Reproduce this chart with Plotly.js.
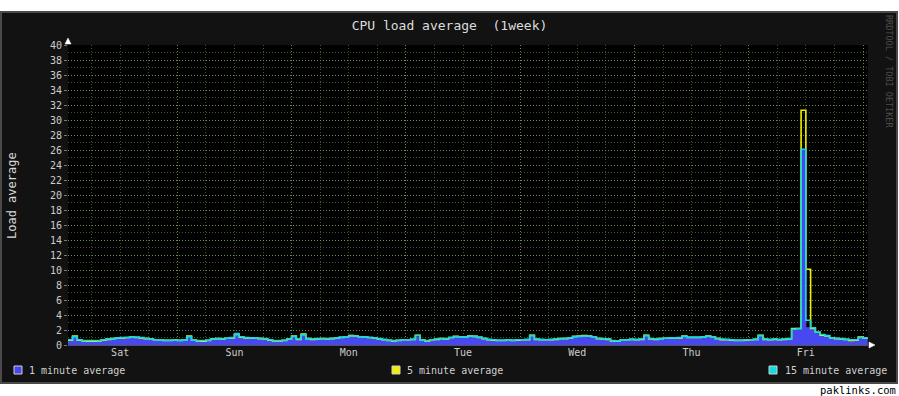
<!DOCTYPE html>
<html>
<head>
<meta charset="utf-8">
<script src="https://cdn.plot.ly/plotly-3.0.1.min.js"></script>
<style>html,body{margin:0;padding:0;background:#fff;}#chart{width:899px;height:396px;}</style>
</head>
<body>
<div id="chart"></div>
<script>
// ---- data (hours since Sat 00:00, hourly samples starting at hour 1) ----
const startHour = 1;
const stepHours = 1;
const days = ['Sat', 'Sun', 'Mon', 'Tue', 'Wed', 'Thu', 'Fri'];
const dayCentres = [12, 36, 60, 84, 108, 132, 156];
const yTicks = [0,2,4,6,8,10,12,14,16,18,20,22,24,26,28,30,32,34,36,38,40];
const seriesNames = ['1 minute average', '5 minute average', '15 minute average'];

const load1 = [
  0.6, 1.0, 0.6, 0.55, 0.55, 0.55, 0.6, 0.7, 0.8, 0.85, 0.9, 0.95,
  1.0, 1.0, 1.0, 0.95, 0.85, 0.75, 0.7, 0.65, 0.6, 0.6, 0.6, 0.6,
  0.6, 1.0, 0.6, 0.55, 0.55, 0.6, 0.8, 0.8, 0.8, 0.85, 0.95, 1.6,
  1.1, 0.95, 0.9, 0.9, 0.85, 0.85, 0.7, 0.55, 0.55, 0.6, 0.75, 1.1,
  0.75, 1.4, 0.8, 0.75, 0.8, 0.85, 0.8, 0.85, 0.9, 1.0, 1.1, 1.3,
  1.2, 1.15, 1.05, 1.0, 0.95, 0.85, 0.7, 0.65, 0.55, 0.6, 0.65, 0.7,
  0.7, 1.0, 0.6, 0.55, 0.7, 0.75, 0.8, 0.8, 0.95, 1.1, 1.1, 1.05,
  1.2, 1.2, 1.05, 0.85, 0.75, 0.65, 0.6, 0.6, 0.65, 0.6, 0.65, 0.65,
  0.7, 1.3, 0.75, 0.7, 0.65, 0.7, 0.75, 0.8, 0.85, 0.9, 1.1, 1.15,
  1.25, 1.2, 1.1, 0.85, 0.8, 0.8, 0.6, 0.5, 0.65, 0.7, 0.7, 0.7,
  0.75, 1.3, 0.8, 0.75, 0.85, 0.85, 0.9, 0.9, 0.95, 1.15, 1.0, 1.0,
  1.0, 1.0, 1.2, 1.1, 0.85, 0.75, 0.7, 0.65, 0.65, 0.65, 0.65, 0.7,
  0.75, 1.2, 0.75, 0.7, 0.75, 0.75, 0.75, 0.8, 2.0, 2.1, 26.0, 2.3,
  2.1, 1.6, 1.3, 1.2, 0.9, 0.85, 0.8, 0.7, 0.65, 0.65, 1.0, 0.9,
  0.9
];
const load5 = [
  0.65, 1.2, 0.65, 0.55, 0.5, 0.5, 0.55, 0.65, 0.75, 0.85, 0.9, 0.95,
  1.0, 1.05, 1.0, 0.95, 0.85, 0.8, 0.7, 0.65, 0.6, 0.6, 0.65, 0.6,
  0.65, 1.2, 0.65, 0.55, 0.5, 0.6, 0.8, 0.85, 0.8, 0.9, 0.95, 1.4,
  1.05, 0.95, 0.9, 0.95, 0.85, 0.8, 0.65, 0.55, 0.55, 0.6, 0.8, 1.2,
  0.75, 1.45, 0.85, 0.75, 0.8, 0.85, 0.8, 0.85, 0.9, 1.0, 1.1, 1.25,
  1.2, 1.1, 1.05, 1.0, 0.9, 0.8, 0.7, 0.6, 0.55, 0.6, 0.7, 0.7,
  0.75, 1.3, 0.65, 0.55, 0.7, 0.75, 0.85, 0.8, 1.0, 1.15, 1.1, 1.05,
  1.2, 1.15, 1.0, 0.85, 0.7, 0.65, 0.6, 0.6, 0.7, 0.6, 0.65, 0.7,
  0.7, 1.3, 0.75, 0.7, 0.7, 0.7, 0.75, 0.85, 0.85, 0.9, 1.15, 1.2,
  1.25, 1.2, 1.1, 0.85, 0.8, 0.75, 0.55, 0.5, 0.65, 0.7, 0.75, 0.7,
  0.75, 1.3, 0.8, 0.75, 0.85, 0.9, 0.9, 0.9, 0.95, 1.2, 1.0, 1.0,
  1.0, 1.05, 1.2, 1.1, 0.85, 0.7, 0.7, 0.65, 0.6, 0.6, 0.65, 0.7,
  0.75, 1.3, 0.75, 0.7, 0.75, 0.7, 0.75, 0.8, 2.2, 2.2, 31.3, 10.1,
  2.2, 1.7, 1.3, 1.2, 0.95, 0.85, 0.8, 0.75, 0.6, 0.65, 1.05, 0.9,
  0.9
];
const load15 = [
  0.7, 1.1, 0.7, 0.6, 0.6, 0.6, 0.6, 0.7, 0.8, 0.85, 0.95, 1.0,
  1.0, 1.05, 1.05, 1.0, 0.9, 0.8, 0.7, 0.65, 0.65, 0.65, 0.65, 0.65,
  0.65, 1.1, 0.65, 0.6, 0.6, 0.65, 0.8, 0.85, 0.85, 0.9, 1.0, 1.45,
  1.1, 1.0, 0.95, 0.95, 0.9, 0.85, 0.7, 0.6, 0.6, 0.65, 0.8, 1.15,
  0.8, 1.35, 0.85, 0.8, 0.85, 0.85, 0.85, 0.9, 0.95, 1.05, 1.1, 1.2,
  1.2, 1.1, 1.05, 1.0, 0.95, 0.85, 0.75, 0.65, 0.6, 0.65, 0.7, 0.7,
  0.75, 1.25, 0.65, 0.6, 0.7, 0.8, 0.85, 0.85, 1.0, 1.1, 1.1, 1.05,
  1.2, 1.15, 1.05, 0.9, 0.75, 0.7, 0.65, 0.65, 0.7, 0.65, 0.7, 0.7,
  0.75, 1.25, 0.8, 0.75, 0.7, 0.75, 0.8, 0.85, 0.9, 0.95, 1.1, 1.15,
  1.2, 1.2, 1.1, 0.9, 0.85, 0.8, 0.6, 0.55, 0.65, 0.7, 0.75, 0.75,
  0.8, 1.25, 0.85, 0.8, 0.85, 0.9, 0.95, 0.95, 1.0, 1.15, 1.05, 1.05,
  1.05, 1.05, 1.2, 1.1, 0.9, 0.8, 0.75, 0.7, 0.65, 0.65, 0.7, 0.7,
  0.75, 1.25, 0.8, 0.75, 0.8, 0.75, 0.8, 0.85, 2.1, 2.2, 26.1, 3.3,
  2.3, 1.7, 1.4, 1.25, 0.95, 0.9, 0.85, 0.75, 0.7, 0.7, 1.0, 0.95,
  0.95
];

// ---- build ----
const hours = load1.map((_, i) => startHour + i * stepHours);
const MONO = 'DejaVu Sans Mono, monospace';
const xRange = [1.05, 169.05];
const MAJOR = 'rgba(105,150,75,0.95)';
const MINOR = 'rgba(70,95,45,0.9)';
const DASH = '1px,2px';

const traces = [
  { x: hours, y: load1, type: 'scatter', mode: 'lines', line: { shape: 'hv', color: '#4848f0', width: 1 },
    fill: 'tozeroy', fillcolor: '#4848f0', name: seriesNames[0], hoverinfo: 'skip' },
  { x: hours, y: load5, type: 'scatter', mode: 'lines', line: { shape: 'hv', color: '#f0f000', width: 1.6 },
    name: seriesNames[1], hoverinfo: 'skip' },
  { x: hours, y: load15, xaxis: 'x2', type: 'scatter', mode: 'lines', line: { shape: 'hv', color: '#10dde0', width: 1.6 },
    name: seriesNames[2], hoverinfo: 'skip' }
];

function px(x) { return (x - 68) / 800; }
function py(y) { return (345 - y) / 300; }

const legendColors = ['#4848f0', '#f0f000', '#10dde0'];
const legendSquareX = [14, 392, 769];
const legendTextX = [27, 405, 783];

const shapes = [
  { type: 'rect', xref: 'paper', yref: 'paper', layer: 'below', x0: px(1), x1: px(897), y0: py(383), y1: py(12),
    fillcolor: '#121212', line: { color: '#4a4a4a', width: 2 } },
  { type: 'rect', xref: 'paper', yref: 'paper', layer: 'below', x0: 0, x1: 1, y0: 0, y1: 1,
    fillcolor: '#000000', line: { width: 0 } },
  { type: 'path', xref: 'paper', yref: 'paper', path: `M ${px(65)} ${py(44)} L ${px(71)} ${py(44)} L ${px(68)} ${py(38)} Z`,
    fillcolor: '#ffffff', line: { color: '#ffffff', width: 0.5 } },
  { type: 'path', xref: 'paper', yref: 'paper', path: `M ${px(869)} ${py(342)} L ${px(869)} ${py(348)} L ${px(875)} ${py(345)} Z`,
    fillcolor: '#ffffff', line: { color: '#ffffff', width: 0.5 } }
];
const annotations = [
  { text: 'Load average', xref: 'paper', yref: 'paper', x: px(12), y: py(195), textangle: -90, showarrow: false,
    font: { family: MONO, size: 12, color: '#d8d8d8' }, xanchor: 'center', yanchor: 'middle' },
  { text: 'RRDTOOL / TOBI OETIKER', xref: 'paper', yref: 'paper', x: px(889), y: py(71), textangle: 90, showarrow: false,
    font: { family: MONO, size: 8.5, color: '#4e4e4e' }, xanchor: 'center', yanchor: 'middle' },
  { text: 'paklinks.com', xref: 'paper', yref: 'paper', x: px(897), y: py(389.5), showarrow: false, borderpad: 0,
    font: { family: MONO, size: 10.5, color: '#000000' }, xanchor: 'right', yanchor: 'middle' }
];
seriesNames.forEach((n, i) => {
  shapes.push({ type: 'rect', xref: 'paper', yref: 'paper', x0: px(legendSquareX[i]), x1: px(legendSquareX[i] + 8),
    y0: py(374), y1: py(366), fillcolor: legendColors[i], line: { color: '#cfcfcf', width: 1 } });
  annotations.push({ text: n, xref: 'paper', yref: 'paper', x: px(legendTextX[i]), y: py(370.5), showarrow: false,
    xanchor: 'left', yanchor: 'middle', font: { family: MONO, size: 10, color: '#d0d0d0' } });
});

const layout = {
  width: 899, height: 396,
  margin: { l: 68, r: 31, t: 45, b: 51, pad: 0 },
  paper_bgcolor: '#ffffff',
  plot_bgcolor: 'rgba(0,0,0,0)',
  showlegend: false,
  title: { text: 'CPU load average\u00a0\u00a0(1week)', x: 0.5, xref: 'container', xanchor: 'center',
    y: 1 - 25 / 396, yref: 'container', yanchor: 'middle', font: { family: MONO, size: 13, color: '#dcdcdc' } },
  xaxis: {
    range: xRange, tick0: 0, dtick: 24, showticklabels: false, ticks: '',
    showgrid: true, gridcolor: MAJOR, griddash: DASH, gridwidth: 1,
    minor: { tick0: 0, dtick: 6, showgrid: true, gridcolor: MINOR, griddash: DASH, gridwidth: 1 },
    zeroline: false, showline: true, linecolor: '#555555', linewidth: 1, fixedrange: true
  },
  xaxis2: {
    overlaying: 'x', anchor: 'y', side: 'bottom', range: xRange,
    tickmode: 'array', tickvals: dayCentres, ticktext: days, ticks: '', showgrid: false, zeroline: false,
    showline: false, tickfont: { family: MONO, size: 10, color: '#cccccc' }, fixedrange: true
  },
  yaxis: {
    range: [0, 40], tickmode: 'array', tickvals: yTicks, ticktext: yTicks.map(String),
    showgrid: true, gridcolor: MAJOR, griddash: DASH, gridwidth: 1,
    minor: { tick0: 0, dtick: 1, showgrid: true, gridcolor: MINOR, griddash: DASH, gridwidth: 1 },
    ticks: 'outside', ticklen: 3, tickcolor: '#777777', zeroline: false, showline: false,
    tickfont: { family: MONO, size: 10, color: '#cccccc' }, fixedrange: true
  },
  shapes: shapes,
  annotations: annotations
};

Plotly.newPlot('chart', traces, layout, { displayModeBar: false, staticPlot: true });
</script>
</body>
</html>
